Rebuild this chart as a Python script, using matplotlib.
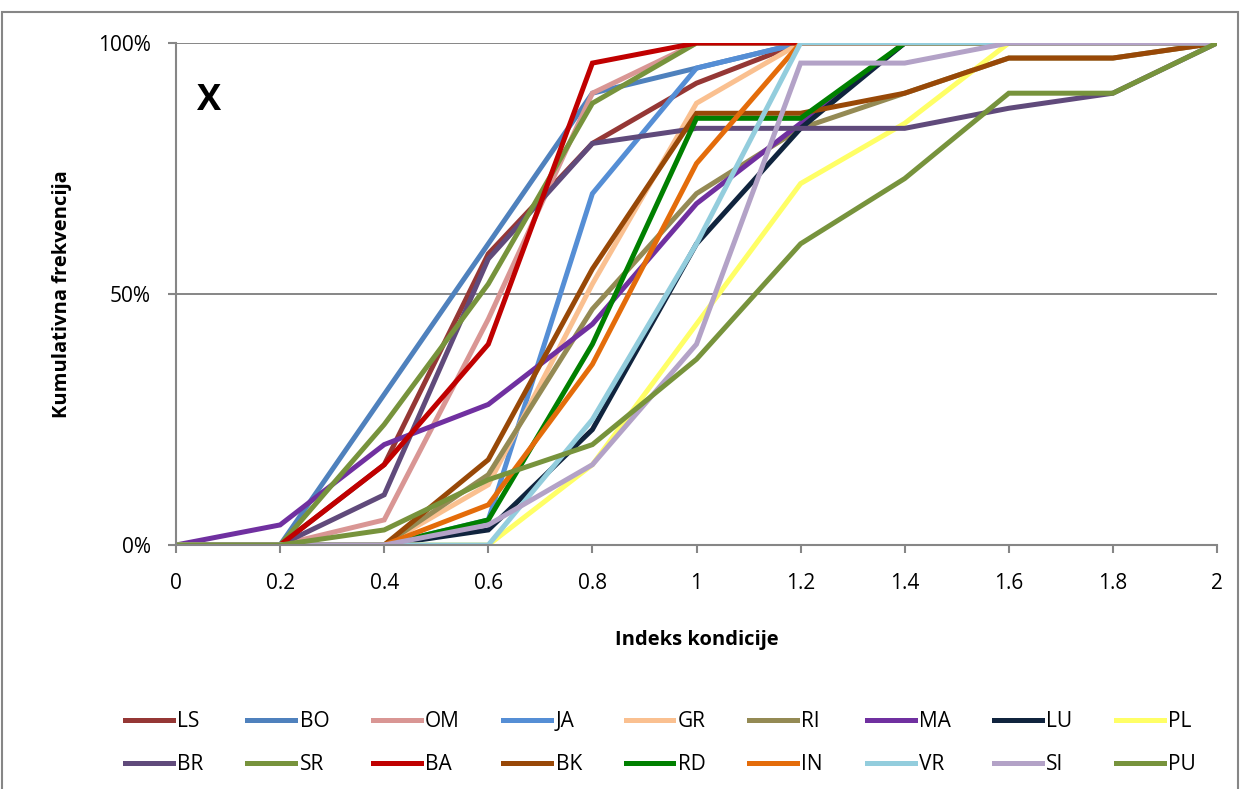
import numpy as np
import matplotlib.pyplot as plt
from matplotlib.patches import Rectangle

plt.rcParams['font.family'] = ['Open Sans', 'DejaVu Sans']

# x positions (Indeks kondicije)
x = [0, 0.2, 0.4, 0.6, 0.8, 1.0, 1.2, 1.4, 1.6, 1.8, 2.0]

# cumulative frequencies (%) per site
LS = [0, 0, 16, 58, 80, 92, 100, 100, 100, 100, 100]
BO = [0, 0, 30, 60, 90, 95, 100, 100, 100, 100, 100]
OM = [0, 0, 5, 45, 90, 100, 100, 100, 100, 100, 100]
JA = [0, 0, 0, 5, 70, 95, 100, 100, 100, 100, 100]
GR = [0, 0, 0, 12, 52, 88, 100, 100, 100, 100, 100]
RI = [0, 0, 0, 14, 47, 70, 83, 90, 97, 97, 100]
MA = [0, 4, 20, 28, 44, 68, 84, 100, 100, 100, 100]
LU = [0, 0, 0, 3, 23, 60, 83, 100, 100, 100, 100]
PL = [0, 0, 0, 0, 16, 44, 72, 84, 100, 100, 100]
BR = [0, 0, 10, 57, 80, 83, 83, 83, 87, 90, 100]
SR = [0, 0, 24, 52, 88, 100, 100, 100, 100, 100, 100]
BA = [0, 0, 16, 40, 96, 100, 100, 100, 100, 100, 100]
BK = [0, 0, 0, 17, 55, 86, 86, 90, 97, 97, 100]
RD = [0, 0, 0, 5, 40, 85, 85, 100, 100, 100, 100]
IN = [0, 0, 0, 8, 36, 76, 100, 100, 100, 100, 100]
VR = [0, 0, 0, 0, 25, 60, 100, 100, 100, 100, 100]
SI = [0, 0, 0, 4, 16, 40, 96, 96, 100, 100, 100]
PU = [0, 0, 3, 13, 20, 37, 60, 73, 90, 90, 100]

names = ['LS', 'BO', 'OM', 'JA', 'GR', 'RI', 'MA', 'LU', 'PL',
         'BR', 'SR', 'BA', 'BK', 'RD', 'IN', 'VR', 'SI', 'PU']
series = [LS, BO, OM, JA, GR, RI, MA, LU, PL,
          BR, SR, BA, BK, RD, IN, VR, SI, PU]
colors = ['#953735', '#4F81BD', '#D99694', '#558ED5', '#FAC090', '#948A54',
          '#7030A0', '#10243E', '#FFFF66', '#604A7B', '#77933C', '#C00000',
          '#984807', '#008000', '#E46C0A', '#93CDDD', '#B3A2C7', '#77933C']

fig = plt.figure(figsize=(12.42, 7.89), dpi=100)
ax = fig.add_axes([176 / 1242, 1 - 545 / 789, (1217 - 176) / 1242, (545 - 43) / 789])

handles = []
for name, y, c in zip(names, series, colors):
    h, = ax.plot(x, y, color=c, lw=3.6, label=name, solid_joinstyle='miter')
    handles.append(h)

ax.set_xlim(0, 2)
ax.set_ylim(0, 100)
ax.set_xticks(x)
ax.set_xticklabels(['0', '0.2', '0.4', '0.6', '0.8', '1', '1.2', '1.4', '1.6', '1.8', '2'])
ax.set_yticks([0, 50, 100])
ax.set_yticklabels(['0%', '50%', '100%'])
ax.tick_params(axis='both', labelsize=15, color='#868686', length=6, width=1.5)
ax.tick_params(axis='x', pad=14)
ax.tick_params(axis='y', pad=12)
ax.grid(axis='y', color='#868686', lw=1.4)
ax.set_axisbelow(True)
for s in ['top', 'right']:
    ax.spines[s].set_visible(False)
for s in ['left', 'bottom']:
    ax.spines[s].set_color('#868686')
    ax.spines[s].set_linewidth(1.5)

ax.set_ylabel('Kumulativna frekvencija', fontsize=14.5, fontweight='bold', labelpad=19)
ax.set_xlabel('Indeks kondicije', fontsize=14.5, fontweight='bold', labelpad=26)
ax.text(0.02, 0.885, 'X', transform=ax.transAxes, fontsize=26, fontweight='bold', va='center')

# legend: two rows of nine, matplotlib fills columns first
order = []
for i in range(9):
    order += [i, i + 9]
leg = fig.legend([handles[i] for i in order], [names[i] for i in order],
                 ncol=9, loc='center', bbox_to_anchor=(0.532, 1 - 743 / 789),
                 frameon=False, fontsize=15, handlelength=2.3, columnspacing=2.1,
                 handletextpad=0.2, labelspacing=1.05)

fig.patches.append(Rectangle((0.002, -0.02), 0.995, 1.005, transform=fig.transFigure,
                             fill=False, edgecolor='#868686', lw=1.5))

fig.savefig('out.png', dpi=100)
